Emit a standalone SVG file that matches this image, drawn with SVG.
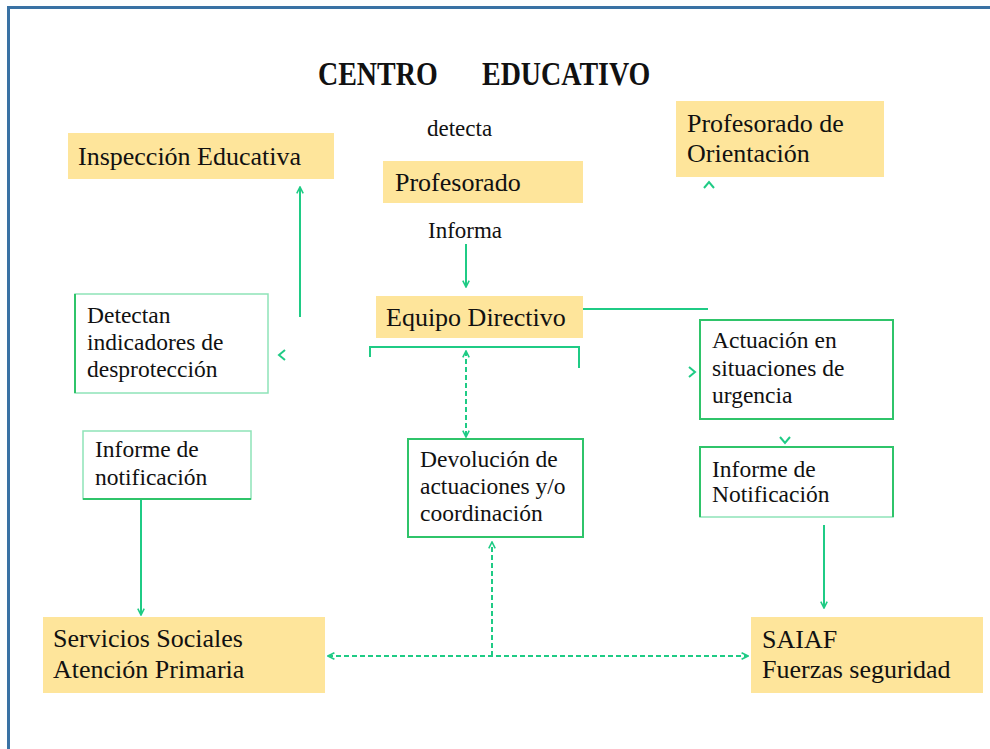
<svg xmlns="http://www.w3.org/2000/svg" width="990" height="749" viewBox="0 0 990 749">
<defs>
<style>
.t{font-family:"Liberation Serif","Times New Roman",serif;fill:#111;}
.big{font-size:26px;}
.mid{font-size:23.5px;}
.lab{font-size:23px;}
.org{fill:#FEE59B;}
.gbox{fill:#fff;stroke:#2FC46A;stroke-width:2;}
.lbox{fill:#fff;stroke:#8EE3B8;stroke-width:1.5;}
.con{fill:none;stroke:#1FCB85;stroke-width:2;}
.dash{fill:none;stroke:#1FCB85;stroke-width:2;stroke-dasharray:5,3;}
.head{fill:none;stroke:#1FCB85;stroke-width:2;}
</style>
<marker id="ah" viewBox="0 0 10 10" refX="9" refY="5" markerWidth="8" markerHeight="8" orient="auto-start-reverse" markerUnits="userSpaceOnUse">
<path d="M1,1 L9,5 L1,9" fill="none" stroke="#1FCB85" stroke-width="2"/>
</marker>
</defs>
<rect width="990" height="749" fill="#fff"/>
<path d="M8.5 749 V7.5 H990" fill="none" stroke="#3A72A4" stroke-width="3"/>

<g id="title">
<text class="t" font-weight="bold" font-size="28" transform="translate(0,85) scale(1,1.2)"><tspan x="318" y="0">CENTRO</tspan><tspan x="482" y="0">EDUCATIVO</tspan></text>
</g>

<g id="connectors">
<line class="con" x1="466" y1="244" x2="466" y2="287" marker-end="url(#ah)"/>
<line class="con" x1="583" y1="309" x2="708" y2="309"/>
<path class="con" d="M370 357 V347 H579 V368"/>
<line class="dash" x1="466" y1="351" x2="466" y2="437" marker-start="url(#ah)" marker-end="url(#ah)"/>
<line class="con" x1="300" y1="317" x2="300" y2="187" marker-end="url(#ah)"/>
<line class="con" x1="141" y1="499" x2="141" y2="615" marker-end="url(#ah)"/>
<line class="con" x1="824" y1="525" x2="824" y2="608" marker-end="url(#ah)"/>
<line class="dash" x1="492" y1="656" x2="492" y2="542" marker-end="url(#ah)"/>
<line class="dash" x1="328" y1="656" x2="748" y2="656" marker-start="url(#ah)" marker-end="url(#ah)"/>
<polyline class="head" points="285,350 279,355 285,360"/>
<polyline class="head" points="704,188 709,182 714,188"/>
<polyline class="head" points="689,367 695,372 689,377"/>
<polyline class="head" points="780,437 785,443 790,437"/>
</g>

<g id="label-detecta"><text class="t lab" x="427" y="136">detecta</text></g>
<g id="label-informa"><text class="t lab" x="428" y="238">Informa</text></g>

<g id="inspeccion">
<rect class="org" x="68" y="133" width="266" height="46"/>
<text class="t big" x="78" y="165">Inspección Educativa</text>
</g>

<g id="profesorado">
<rect class="org" x="383" y="161" width="200" height="42"/>
<text class="t big" x="395" y="191">Profesorado</text>
</g>

<g id="orientacion">
<rect class="org" x="676" y="101" width="208" height="76"/>
<text class="t big" x="687" y="132">Profesorado de</text>
<text class="t big" x="687" y="162">Orientación</text>
</g>

<g id="equipo">
<rect class="org" x="376" y="296" width="207" height="42"/>
<text class="t big" x="386" y="326">Equipo Directivo</text>
</g>

<g id="detectan">
<rect class="lbox" x="75" y="294" width="193" height="99"/>
<line x1="75" y1="294" x2="75" y2="393" stroke="#2FC46A" stroke-width="2"/>
<text class="t mid" x="87" y="323">Detectan</text>
<text class="t mid" x="87" y="350">indicadores de</text>
<text class="t mid" x="87" y="377">desprotección</text>
</g>

<g id="actuacion">
<rect class="gbox" x="700" y="320" width="193" height="99"/>
<text class="t mid" x="712" y="348">Actuación en</text>
<text class="t mid" x="712" y="376">situaciones de</text>
<text class="t mid" x="712" y="403">urgencia</text>
</g>

<g id="devolucion">
<rect class="gbox" x="408" y="439" width="175" height="98"/>
<text class="t mid" x="420" y="467">Devolución de</text>
<text class="t mid" x="420" y="494">actuaciones y/o</text>
<text class="t mid" x="420" y="521">coordinación</text>
</g>

<g id="informe-izq">
<rect class="lbox" x="83" y="431" width="168" height="68"/>
<line x1="83" y1="499" x2="251" y2="499" stroke="#2FC46A" stroke-width="2"/>
<text class="t mid" x="95" y="457">Informe de</text>
<text class="t mid" x="95" y="485">notificación</text>
</g>

<g id="informe-der">
<rect class="lbox" x="700" y="447" width="193" height="70"/>
<path d="M700 517 V447 H893 V517" fill="none" stroke="#2FC46A" stroke-width="2"/>
<text class="t mid" x="712" y="477">Informe de</text>
<text class="t mid" x="712" y="502">Notificación</text>
</g>

<g id="servicios">
<rect class="org" x="43" y="617" width="282" height="76"/>
<text class="t big" x="53" y="647">Servicios Sociales</text>
<text class="t big" x="53" y="678">Atención Primaria</text>
</g>

<g id="saiaf">
<rect class="org" x="751" y="617" width="232" height="76"/>
<text class="t big" x="762" y="648">SAIAF</text>
<text class="t big" x="762" y="678">Fuerzas seguridad</text>
</g>
</svg>
